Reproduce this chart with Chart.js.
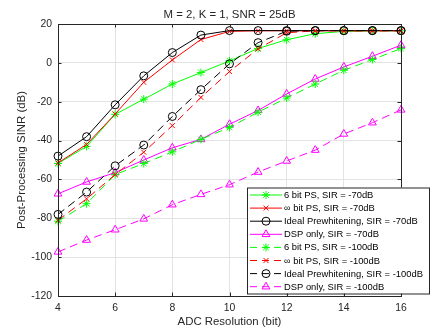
<!DOCTYPE html>
<html>
<head>
<meta charset="utf-8">
<script src="https://cdn.jsdelivr.net/npm/chart.js@4/dist/chart.umd.min.js"></script>
<style>
html,body{margin:0;padding:0;background:#fff;}
#wrap{width:443px;height:332px;position:relative;}
</style>
</head>
<body>
<div id="wrap"><canvas id="c" width="443" height="332"></canvas></div>
<script>
const bits = [4,5,6,7,8,9,10,11,12,13,14,15,16];
const ps6_70   = [-51.8,-43,-26.5,-18.7,-10.9,-5,1,7.4,11.9,15,16.2,16.5,16.5];
const inf_70   = [-51.5,-42,-26.3,-10,1.5,12,16.2,16.5,16.5,16.5,16.5,16.5,16.5];
const ideal_70 = [-48,-38,-21.6,-6.7,5.3,14.3,16.6,16.6,16.6,16.6,16.6,16.6,16.6];
const dsp_70   = [-67.4,-61.3,-56.5,-50,-43.7,-39.4,-31.6,-24.5,-16,-8.3,-2.1,3.4,9.1];
const ps6_100   = [-81.5,-72.5,-57.5,-51.8,-45.8,-39.4,-33.2,-25.4,-18.1,-10.9,-3.8,1.7,7.4];
const inf_100   = [-81,-70,-57.5,-46,-32.3,-17.8,-4.5,7.2,15.5,16.5,16.5,16.5,16.5];
const ideal_100 = [-78,-66.5,-53,-42.3,-27.6,-13.8,-0.5,10.4,16.3,16.6,16.6,16.6,16.6];
const dsp_100   = [-97.3,-91.2,-85.9,-80.3,-73,-67.7,-62.7,-56.2,-50.5,-44.9,-36.6,-30.8,-24.2];
const seriesLabels = [
  "6 bit PS, SIR = -70dB","\u221E bit PS, SIR = -70dB","Ideal Prewhitening, SIR = -70dB","DSP only, SIR = -70dB",
  "6 bit PS, SIR = -100dB","\u221E bit PS, SIR = -100dB","Ideal Prewhitening, SIR = -100dB","DSP only, SIR = -100dB"
];
const xTicks = [4,6,8,10,12,14,16];
const yTicks = [20,0,-20,-40,-60,-80,-100,-120];
const titleText = "M = 2, K = 1, SNR = 25dB";
const xTitle = "ADC Resolution (bit)";
const yTitle = "Post-Processing SINR (dB)";

const allData = [ps6_70,inf_70,ideal_70,dsp_70,ps6_100,inf_100,ideal_100,dsp_100];
const colors = ['#00ff00','#ff0000','#000000','#ff00ff','#00ff00','#ff0000','#000000','#ff00ff'];
const styles = ['star','crossRot','circle','triangle','star','crossRot','circle','triangle'];
const radii = [4,3.5,4,4.5,4,3.5,4,4.5];
const DASH = [8,5];
const TXT = '#262626';
const FONT = '"Liberation Sans", Arial, Helvetica, sans-serif';

const datasets = allData.map((d,i)=>({
  label: seriesLabels[i],
  data: d.map((v,j)=>({x:bits[j], y:v})),
  borderColor: colors[i],
  backgroundColor: 'rgba(0,0,0,0)',
  pointBorderColor: colors[i],
  pointBackgroundColor: 'rgba(0,0,0,0)',
  pointStyle: styles[i],
  pointRadius: radii[i],
  pointBorderWidth: 1,
  borderWidth: 1,
  borderDash: i>=4 ? DASH : [],
  tension: 0,
  fill: false,
  clip: false,
  order: 8-i
}));

function drawMarker(ctx, style, x, y, r, color){
  ctx.save();
  ctx.strokeStyle = color; ctx.lineWidth = 1; ctx.setLineDash([]);
  ctx.beginPath();
  if(style==='circle'){ ctx.arc(x,y,r,0,Math.PI*2); }
  else if(style==='triangle'){
    const s = r*Math.sqrt(3);
    ctx.moveTo(x, y-r); ctx.lineTo(x+s/2, y+r/2); ctx.lineTo(x-s/2, y+r/2); ctx.closePath();
  } else if(style==='crossRot'){
    const d = r*Math.SQRT1_2;
    ctx.moveTo(x-d,y-d); ctx.lineTo(x+d,y+d); ctx.moveTo(x+d,y-d); ctx.lineTo(x-d,y+d);
  } else if(style==='star'){
    const d = r*Math.SQRT1_2;
    ctx.moveTo(x-r,y); ctx.lineTo(x+r,y); ctx.moveTo(x,y-r); ctx.lineTo(x,y+r);
    ctx.moveTo(x-d,y-d); ctx.lineTo(x+d,y+d); ctx.moveTo(x+d,y-d); ctx.lineTo(x-d,y+d);
  }
  ctx.stroke();
  ctx.restore();
}

const decor = {
  id:'decor',
  afterDraw(chart){
    const ctx = chart.ctx, a = chart.chartArea;
    const xs = chart.scales.x, ys = chart.scales.y;
    ctx.save();
    ctx.strokeStyle = TXT; ctx.lineWidth = 1; ctx.setLineDash([]);
    ctx.strokeRect(Math.round(a.left)+0.5, Math.round(a.top)+0.5, Math.round(a.right-a.left), Math.round(a.bottom-a.top));
    const tl = 3.5;
    ctx.beginPath();
    xTicks.forEach(v=>{
      const px = Math.round(xs.getPixelForValue(v))+0.5;
      ctx.moveTo(px, a.bottom); ctx.lineTo(px, a.bottom-tl);
      ctx.moveTo(px, a.top); ctx.lineTo(px, a.top+tl);
    });
    yTicks.forEach(v=>{
      const py = Math.round(ys.getPixelForValue(v))+0.5;
      ctx.moveTo(a.left, py); ctx.lineTo(a.left+tl, py);
      ctx.moveTo(a.right, py); ctx.lineTo(a.right-tl, py);
    });
    ctx.stroke();
    ctx.fillStyle = TXT;
    ctx.font = '11.4px ' + FONT;
    ctx.textAlign = 'center'; ctx.textBaseline = 'middle';
    const cx = (a.left + a.right)/2;
    ctx.fillText(titleText, cx, 15);
    ctx.fillText(xTitle, cx, 321.5);
    ctx.save();
    ctx.translate(21.5, (a.top+a.bottom)/2);
    ctx.rotate(-Math.PI/2);
    ctx.fillText(yTitle, 0, 0);
    ctx.restore();
    const lx = 247, ly = 187.5, lw = 182, lh = 106;
    ctx.fillStyle = '#ffffff';
    ctx.fillRect(lx, ly, lw, lh);
    ctx.strokeStyle = TXT; ctx.lineWidth = 1;
    ctx.strokeRect(lx+0.5, ly+0.5, lw, lh);
    ctx.font = '9.4px ' + FONT;
    ctx.textAlign = 'left'; ctx.textBaseline = 'middle';
    chart.data.datasets.forEach((ds,i)=>{
      const y = 195 + i*13.1;
      ctx.save();
      ctx.strokeStyle = ds.borderColor; ctx.lineWidth = 1;
      ctx.setLineDash(ds.borderDash && ds.borderDash.length ? [7,5] : []);
      ctx.beginPath(); ctx.moveTo(250, y); ctx.lineTo(282, y); ctx.stroke();
      ctx.restore();
      drawMarker(ctx, ds.pointStyle, 266, y, ds.pointRadius, ds.borderColor);
      ctx.fillStyle = '#000';
      ctx.fillText(ds.label, 284, y+0.5);
    });
    ctx.restore();
  }
};

new Chart(document.getElementById('c'), {
  type:'line',
  data:{ datasets },
  options:{
    responsive:false,
    animation:false,
    devicePixelRatio:1,
    layout:{ padding:{ top:24, right:42, left:0, bottom:0 } },
    plugins:{ legend:{display:false}, title:{display:false}, tooltip:{enabled:false} },
    scales:{
      x:{
        type:'linear', min:4, max:16,
        afterFit(s){ s.height = 36; },
        afterBuildTicks(s){ s.ticks = xTicks.map(v=>({value:v})); },
        grid:{ color:'#e3e3e3', drawTicks:false, lineWidth:1 },
        border:{ display:false },
        ticks:{ color:TXT, font:{ family:FONT, size:10.4 }, padding:6, maxRotation:0, autoSkip:false }
      },
      y:{
        type:'linear', min:-120, max:20,
        afterFit(s){ s.width = 58; },
        afterBuildTicks(s){ s.ticks = yTicks.slice().reverse().map(v=>({value:v})); },
        grid:{ color:'#e3e3e3', drawTicks:false, lineWidth:1 },
        border:{ display:false },
        ticks:{ color:TXT, font:{ family:FONT, size:10.4 }, padding:6, autoSkip:false }
      }
    }
  },
  plugins:[decor]
});
</script>
</body>
</html>
